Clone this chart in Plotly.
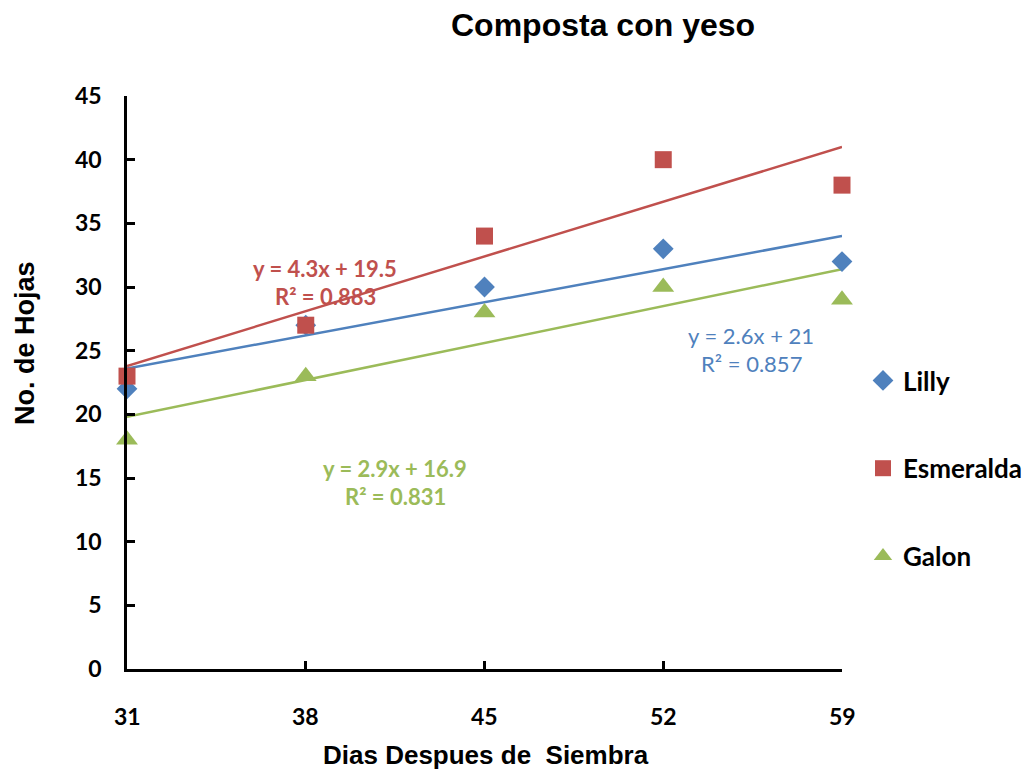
import numpy as np
import plotly.graph_objects as go

days = [31, 38, 45, 52, 59]
lilly = [22, 27, 30, 33, 32]
esmeralda = [23, 27, 34, 40, 38]
galon = [18, 23, 28, 30, 29]
y_ticks = [0, 5, 10, 15, 20, 25, 30, 35, 40, 45]

series = [
    ("Lilly", lilly, "#4F81BD", "diamond", 16, "y = 2.6x + 21", "R² = 0.857", 751, 335, False),
    ("Esmeralda", esmeralda, "#C0504D", "square", 17, "y = 4.3x + 19.5", "R² = 0.883", 325, 268, True),
    ("Galon", galon, "#9BBB59", "triangle-up", 19, "y = 2.9x + 16.9", "R² = 0.831", 395, 468, True),
]

L, R, T, B = 127, 842, 96, 669
W, H = 1029, 774

fig = go.Figure()
idx = np.arange(1, len(days) + 1)
for name, vals, color, sym, sz, eq, r2, ex, ey, bold in series:
    m, c = np.polyfit(idx, vals, 1)
    fit = m * idx + c
    fig.add_trace(go.Scatter(x=days, y=fit, mode="lines", line=dict(color=color, width=2.5),
                             showlegend=False, hoverinfo="skip", cliponaxis=False))
for i, (name, vals, color, sym, sz, eq, r2, ex, ey, bold) in enumerate(series):
    fig.add_trace(go.Scatter(x=days, y=vals, mode="markers", name=name, legendgroup=name,
                             cliponaxis=False,
                             marker=dict(symbol=sym, size=sz, color=color, line=dict(width=0))))

def px(x):
    return (x - L) / (R - L)

def py(y):
    return (B - y) / (B - T)

ann = []
for name, vals, color, sym, sz, eq, r2, ex, ey, bold in series:
    for j, t in enumerate([eq, r2]):
        txt = f"<b>{t}</b>" if bold else t
        ann.append(dict(x=px(ex), y=py(ey + 28 * j), xref="paper", yref="paper", text=txt,
                        showarrow=False, xanchor="center", yanchor="middle",
                        font=dict(family="Lato, Open Sans, sans-serif", size=22, color=color)))

ann.append(dict(x=px(603), y=py(25), xref="paper", yref="paper", text="<b>Composta con yeso</b>",
                showarrow=False, xanchor="center", yanchor="middle",
                font=dict(family="Liberation Sans, Arial", size=32, color="black")))
ann.append(dict(x=px(486), y=py(755), xref="paper", yref="paper", text="<b>Dias Despues de  Siembra</b>",
                showarrow=False, xanchor="center", yanchor="middle",
                font=dict(family="Liberation Sans, Arial", size=26, color="black")))
ann.append(dict(x=px(25), y=py(343), xref="paper", yref="paper", text="<b>No. de Hojas</b>",
                showarrow=False, xanchor="center", yanchor="middle", textangle=-90,
                font=dict(family="Liberation Sans, Arial", size=27, color="black")))
for d in days:
    ann.append(dict(x=d, y=py(716), xref="x", yref="paper", text=f"<b>{d}</b>",
                    showarrow=False, xanchor="center", yanchor="middle",
                    font=dict(family="Lato, Open Sans, sans-serif", size=23, color="black")))

fig.update_layout(
    width=W, height=H,
    margin=dict(l=L, r=W - R, t=T, b=H - B, pad=0, autoexpand=False),
    paper_bgcolor="white", plot_bgcolor="white",
    annotations=ann,
    showlegend=True,
    legend=dict(x=px(863), y=py(357), xanchor="left", yanchor="top", xref="paper", yref="paper",
                font=dict(family="Lato, Open Sans, sans-serif", size=26, color="black", weight="bold"),
                tracegroupgap=51, itemsizing="trace", bgcolor="rgba(0,0,0,0)"),
    xaxis=dict(range=[31, 59], tickvals=days, showticklabels=False, ticks="inside", ticklen=8,
               tickwidth=2.5, tickcolor="black", showline=True, linecolor="black", linewidth=2.5,
               showgrid=False, zeroline=False, fixedrange=True),
    yaxis=dict(range=[0, 45], tickvals=y_ticks, ticks="inside", ticklen=8, tickwidth=2.5,
               tickcolor="black", showline=True, linecolor="black", linewidth=2.5,
               showgrid=False, zeroline=False, ticklabelstandoff=18,
               tickfont=dict(family="Lato, Open Sans, sans-serif", size=23, color="black", weight="bold")),
)

fig.write_html("out.html")
